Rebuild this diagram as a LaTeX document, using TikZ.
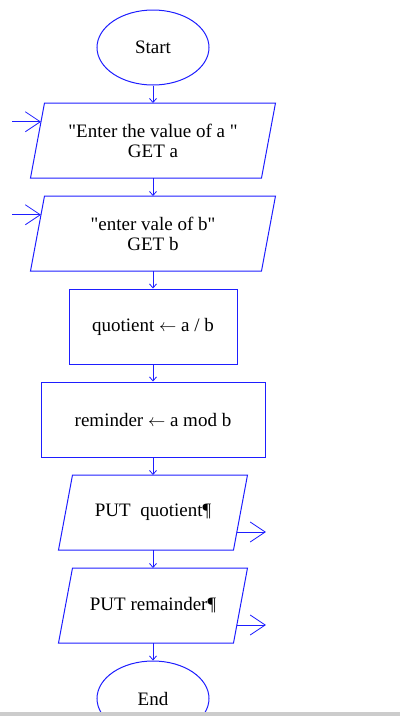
\documentclass[tikz,border=0pt]{standalone}
\usepackage{fontspec}
\setmainfont{Liberation Serif}
\usepackage{tikz}
\usetikzlibrary{arrows.meta,shapes.geometric,positioning}
\usetikzlibrary{calc}
\definecolor{flowblue}{RGB}{30,30,255}
\definecolor{bargray}{RGB}{204,204,204}

\begin{document}
\begin{tikzpicture}[node distance=93pt,line width=1pt,font=\fontsize{19pt}{20pt}\selectfont,
	term/.style={ellipse,draw=flowblue,minimum width=112pt,minimum height=75pt,inner sep=0pt},
	io/.style={rectangle,minimum height=75pt,inner sep=0pt,outer sep=0pt,align=center,
		append after command={\pgfextra{\draw[flowblue] ($(\tikzlastnode.north west)+(7pt,0)$) -- ($(\tikzlastnode.north east)+(7pt,0)$)
			-- ($(\tikzlastnode.south east)+(-7pt,0)$) -- ($(\tikzlastnode.south west)+(-7pt,0)$) -- cycle;}}},
	proc/.style={rectangle,draw=flowblue,minimum height=75pt,inner sep=0pt},
	flow/.style={draw=flowblue,-{Straight Barb[length=4pt,width=7pt,line width=0.8pt]}},
	datain/.style={draw=flowblue,-{Straight Barb[length=15pt,width=20pt,line width=0.8pt]}}]
	\useasboundingbox (0,0) rectangle (400pt,-716pt);
	\node[term]	(start)	at (153pt,-47.5pt) {Start};
	\node[io,minimum width=231pt]	(geta) [below of=start] {\textquotedbl Enter the value of a \textquotedbl\\GET a};
	\node[io,minimum width=231pt]	(getb) [below of=geta] {\textquotedbl enter vale of b\textquotedbl\\GET b};
	\node[proc,minimum width=168pt]	(quot) [below of=getb] {quotient $\leftarrow$ a / b};
	\node[proc,minimum width=224pt]	(rem) [below of=quot] {reminder $\leftarrow$ a mod b};
	\node[io,minimum width=175pt]	(putq) [below of=rem] {PUT\ \ quotient¶};
	\node[io,minimum width=175pt]	(putr) [below of=putq] {PUT remainder¶};
	\node[term]	(end) [below of=putr] {End};
	\path[flow]
			(start) edge (geta)
			(geta) edge (getb)
			(getb) edge (quot)
			(quot) edge (rem)
			(rem) edge (putq)
			(putq) edge (putr)
			(putr) edge (end)
			;
	% data in / data out
	\coordinate (ina) at ($(geta.north west)!0.25!(geta.south west)+(3.5pt,0)$);
	\coordinate (inb) at ($(getb.north west)!0.25!(getb.south west)+(3.5pt,0)$);
	\coordinate (outq) at ($(putq.north east)!0.76!(putq.south east)+(-3.6pt,0)$);
	\coordinate (outr) at ($(putr.north east)!0.76!(putr.south east)+(-3.6pt,0)$);
	\coordinate (srca) at ($(ina)+(-29pt,0)$);
	\coordinate (srcb) at ($(inb)+(-29pt,0)$);
	\coordinate (dstq) at ($(outq)+(29pt,0)$);
	\coordinate (dstr) at ($(outr)+(29pt,0)$);
	\draw[datain] (srca) -- (ina);
	\draw[datain] (srcb) -- (inb);
	\draw[datain] (outq) -- (dstq);
	\draw[datain] (outr) -- (dstr);
	\fill[bargray] (0,-712pt) rectangle (400pt,-716pt);
\end{tikzpicture}
\end{document}
